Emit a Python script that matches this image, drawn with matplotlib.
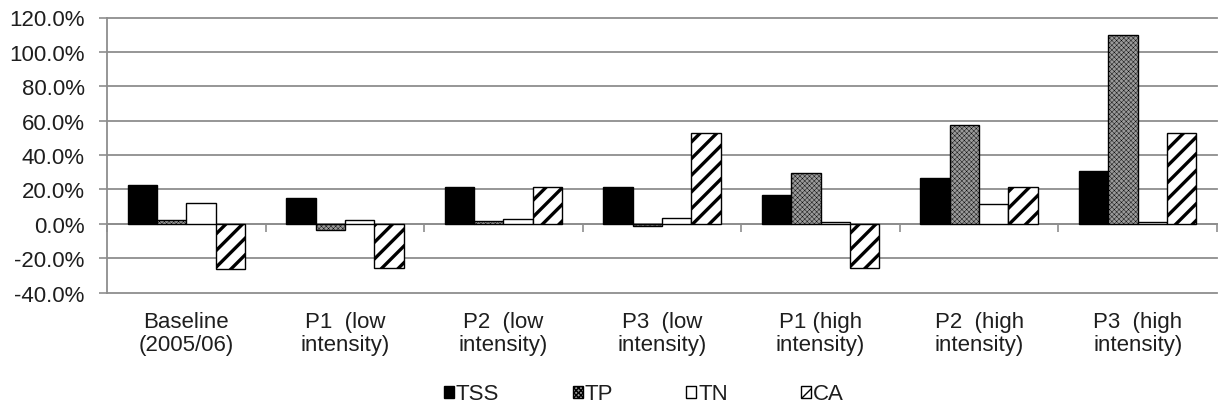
import matplotlib
matplotlib.use("Agg")
import matplotlib.pyplot as plt
from matplotlib.patches import Rectangle
from matplotlib.ticker import FixedLocator, FuncFormatter
import numpy as np

plt.rcParams['font.family'] = ['Liberation Sans', 'DejaVu Sans']

# Scenario labels and percent change per pollutant
categories = ["Baseline\n(2005/06)", "P1  (low\nintensity)", "P2  (low\nintensity)",
              "P3  (low\nintensity)", "P1 (high\nintensity)", "P2  (high\nintensity)",
              "P3  (high\nintensity)"]
series_names = ["TSS", "TP", "TN", "CA"]
tss = [22.5, 14.7, 21.6, 21.6, 16.7, 26.8, 30.9]
tp = [2.0, -3.8, 1.4, -1.2, 29.7, 57.2, 110.0]
tn = [12.2, 2.2, 2.5, 3.3, 1.0, 11.3, 1.0]
ca = [-26.6, -25.5, 21.6, 52.9, -25.8, 21.4, 52.9]
y_ticks = [-40, -20, 0, 20, 40, 60, 80, 100, 120]

styles = [
    dict(facecolor="black", edgecolor="black", hatch=None, hlw=1.0),
    dict(facecolor="#9a9a9a", edgecolor="black", hatch="xxxxxxx", hlw=0.3),
    dict(facecolor="white", edgecolor="black", hatch=None, hlw=1.0),
    dict(facecolor="white", edgecolor="black", hatch="//", hlw=2.4),
]

W, H = 1218, 410
fig = plt.figure(figsize=(W / 100, H / 100), dpi=100)
ax = fig.add_axes([107 / W, (H - 293.5) / H, (1217 - 107) / W, (293.5 - 18.5) / H])

grid_color = "#8e8e8e"
text_color = "#1e1e1e"
fs = 16
x = np.arange(len(categories))
bw = 0.185
handles = []
for k, (vals, st) in enumerate(zip([tss, tp, tn, ca], styles)):
    offs = (k - 1.5) * bw
    with plt.rc_context({'hatch.linewidth': st['hlw']}):
        bars = ax.bar(x + offs, vals, width=bw, facecolor=st['facecolor'],
                      edgecolor=st['edgecolor'], hatch=st['hatch'], linewidth=1.0,
                      zorder=3)
        for b in bars:
            if hasattr(b, 'set_hatch_linewidth'):
                b.set_hatch_linewidth(st['hlw'])
    with plt.rc_context({'hatch.linewidth': min(st['hlw'], 1.3)}):
        h = Rectangle((0, 0), 1, 1, facecolor=st['facecolor'], edgecolor=st['edgecolor'],
                      hatch=st['hatch'], linewidth=1.0)
        if hasattr(h, 'set_hatch_linewidth'):
            h.set_hatch_linewidth(min(st['hlw'], 1.3))
    handles.append(h)

ax.set_xlim(-0.5, len(categories) - 0.5)
ax.set_ylim(y_ticks[0], y_ticks[-1])
ax.yaxis.set_major_locator(FixedLocator(y_ticks))
ax.yaxis.set_major_formatter(FuncFormatter(lambda v, p: f"{v:.1f}%"))
ax.xaxis.set_major_locator(FixedLocator(np.arange(len(categories) + 1) - 0.5))
ax.tick_params(axis='x', direction='out', length=6, width=1.2, color=grid_color,
               labelbottom=False)
ax.tick_params(axis='y', direction='out', length=6, width=1.2, color=grid_color,
               labelsize=fs, labelcolor=text_color, pad=10)

ax.grid(axis='y', color=grid_color, linewidth=1.3, zorder=0)
ax.set_axisbelow(True)
for t in ax.yaxis.get_major_ticks():
    t.gridline.set_clip_on(False)

for side in ['top', 'right']:
    ax.spines[side].set_visible(False)
ax.spines['left'].set_color(grid_color)
ax.spines['left'].set_linewidth(1.3)
ax.spines['bottom'].set_position(('data', 0))
ax.spines['bottom'].set_color(grid_color)
ax.spines['bottom'].set_linewidth(1.3)
ax.spines['bottom'].set_zorder(2)

for i, lab in enumerate(categories):
    ax.annotate(lab, xy=(i, 0), xycoords=('data', 'axes fraction'),
                xytext=(0, -13), textcoords='offset points', ha='center', va='top',
                multialignment='center', fontsize=fs, color=text_color,
                linespacing=1.15)

fig.legend(handles, series_names, loc='center', bbox_to_anchor=(644 / W, 1 - 395 / H),
           ncol=4, frameon=False, fontsize=fs, handlelength=0.45, handleheight=0.45,
           handletextpad=0.08, columnspacing=3.3, borderpad=0, labelcolor=text_color)

fig.savefig("out.png", dpi=100)
